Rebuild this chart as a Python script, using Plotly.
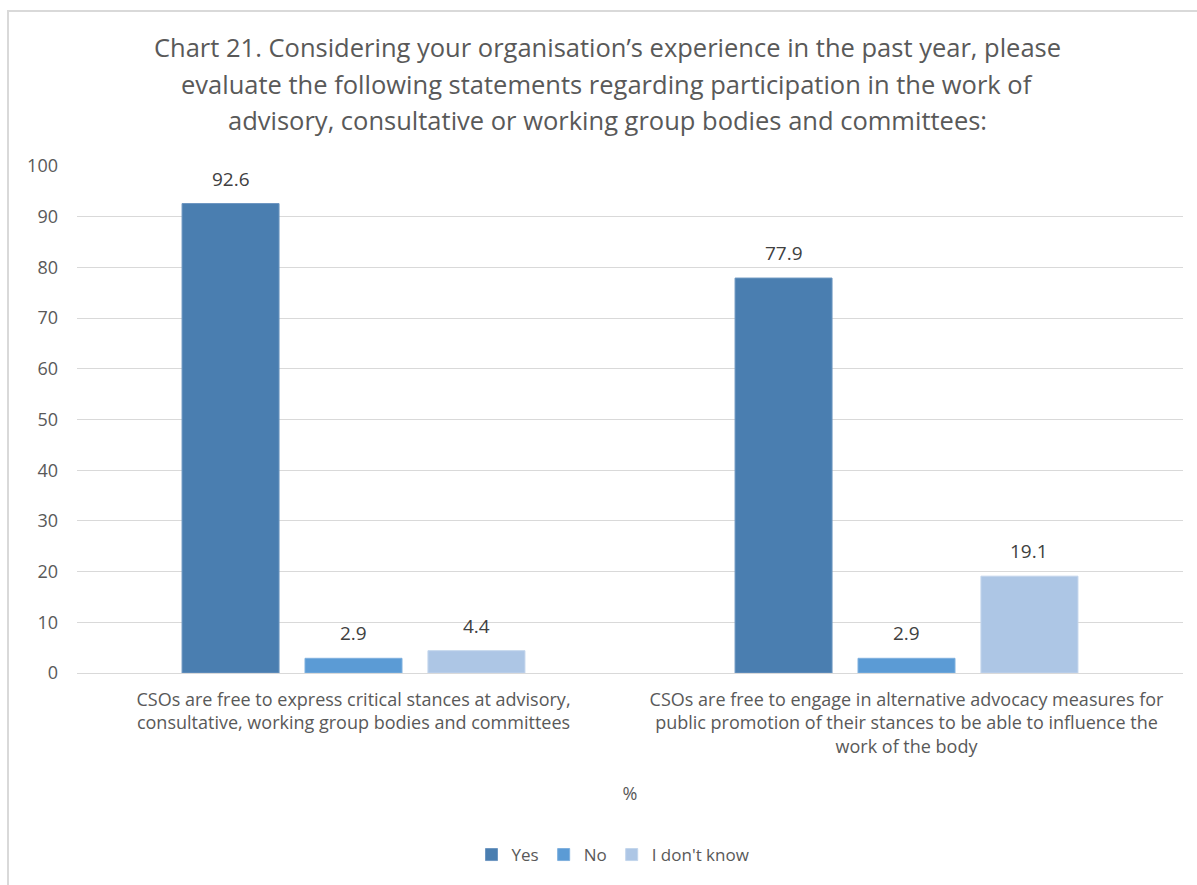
import plotly.graph_objects as go

categories = [
    "CSOs are free to express critical stances at advisory,<br>consultative, working group bodies and committees",
    "CSOs are free to engage in alternative advocacy measures for<br>public promotion of their stances to be able to influence the<br>work of the body",
]
series_names = ["Yes", "No", "I don't know"]
yes_values = [92.6, 77.9]
no_values = [2.9, 2.9]
dont_know_values = [4.4, 19.1]
y_ticks = [0, 10, 20, 30, 40, 50, 60, 70, 80, 90, 100]

title_lines = [
    "Chart 21. Considering your organisation\u2019s experience in the past year, please",
    "evaluate the following statements regarding participation in the work of",
    "advisory, consultative or working group bodies and committees:",
]

colors = ["#4A7EB0", "#5B9BD5", "#ADC6E5"]
edges = ["#6E97C2", "#7FB0DE", "#C3D5EC"]
FONT = "Open Sans"
TEXT = "#595959"

W, H = 1197, 885
L, R, T, B = 77, 14, 166, 212
BARGAP = 0.333
GROUPGAP = 0.211

all_series = [yes_values, no_values, dont_know_values]

fig = go.Figure()
for name, vals, c, e in zip(series_names, all_series, colors, edges):
    fig.add_trace(go.Bar(
        name=name, x=categories, y=vals,
        marker=dict(color=c, line=dict(color=e, width=1)),
    ))

def px_to_paper_x(px):
    return (px - L) / (W - L - R)

def px_to_paper_y(py):
    return (H - B - py) / (H - T - B)

annotations = []
for line, py in zip(title_lines, [47, 84, 120]):
    annotations.append(dict(
        text=line, xref="paper", yref="paper",
        x=px_to_paper_x(607), y=px_to_paper_y(py),
        xanchor="center", yanchor="middle", showarrow=False,
        font=dict(family=FONT, size=25.5, color=TEXT),
    ))

# value labels above each bar, placed at the grouped bar centres
slot = (1 - BARGAP) / len(all_series)
for k, vals in enumerate(all_series):
    for i, v in enumerate(vals):
        annotations.append(dict(
            text=f"{v:.1f}", xref="x", yref="y",
            x=i + (k - 1) * slot, y=v, yshift=25,
            xanchor="center", yanchor="middle", showarrow=False,
            font=dict(family=FONT, size=19, color="#404040"),
        ))

fig.update_layout(
    width=W, height=H,
    margin=dict(l=L, r=R, t=T, b=B),
    paper_bgcolor="white", plot_bgcolor="white",
    barmode="group", bargap=BARGAP, bargroupgap=GROUPGAP,
    annotations=annotations,
    showlegend=True,
    legend=dict(
        orientation="h", x=px_to_paper_x(613), y=px_to_paper_y(855),
        xanchor="center", yanchor="middle",
        font=dict(family=FONT, size=17, color=TEXT),
        itemwidth=30, tracegroupgap=0,
    ),
    xaxis=dict(
        showgrid=False, showline=False, ticks="",
        tickfont=dict(family=FONT, size=18, color=TEXT),
        title=dict(text="%", font=dict(family=FONT, size=18, color=TEXT), standoff=30),
        ticklabelstandoff=14,
    ),
    yaxis=dict(
        range=[0, 100], tickvals=y_ticks,
        showgrid=True, gridcolor="#D9D9D9", gridwidth=1,
        zeroline=True, zerolinecolor="#D9D9D9", zerolinewidth=1,
        showline=False, ticks="",
        tickfont=dict(family=FONT, size=18, color=TEXT),
        ticklabelstandoff=18,
    ),
    shapes=[dict(
        type="rect", xref="paper", yref="paper",
        x0=px_to_paper_x(8), x1=px_to_paper_x(1215),
        y0=px_to_paper_y(905), y1=px_to_paper_y(11),
        line=dict(color="#D9D9D9", width=2), fillcolor="rgba(0,0,0,0)",
        layer="below",
    )],
)

fig.write_html("out.html")
